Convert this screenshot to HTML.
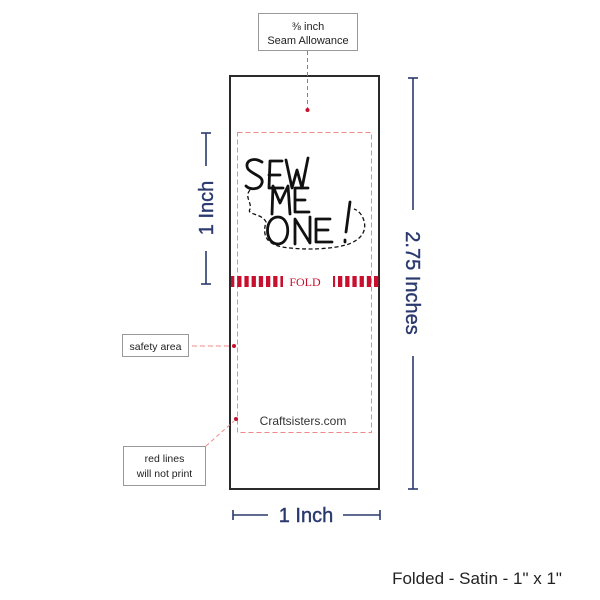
<!DOCTYPE html>
<html><head><style>
html,body{margin:0;padding:0;background:#fff;}
svg{display:block;font-family:"Liberation Sans",sans-serif;}
</style></head><body>
<svg width="600" height="600" viewBox="0 0 600 600">
<defs>
<pattern id="st" x="230" y="0" width="7.2" height="20" patternUnits="userSpaceOnUse">
<rect x="0" y="0" width="4.3" height="20" fill="#c8102e"/>
</pattern>
</defs>
<rect x="230" y="76" width="149" height="413" fill="#fff" stroke="#2a2a2a" stroke-width="2"/>
<rect x="237.5" y="132.5" width="134" height="300" fill="none" stroke="#f08a8a" stroke-width="1" stroke-dasharray="5,3"/>
<rect x="231" y="276" width="52" height="11" fill="url(#st)"/>
<rect x="333" y="276" width="46" height="11" fill="url(#st)"/>
<text x="305" y="286" font-family="Liberation Serif,serif" font-size="12" fill="#c8102e" text-anchor="middle">FOLD</text>
<g fill="none" stroke="#111" stroke-width="2.8" stroke-linecap="round" stroke-linejoin="round">
<path d="M262 162 C252 156 244 162 248 169 C253 175 264 176 262 183 C260 190 250 190 246 186"/>
<path d="M282 161 L270 161 L269 188 L283 188 M269 175 L280 175"/>
<path d="M286 160 L292 188 L297 170 L302 188 L308 158"/>
<path d="M272 214 L273 186 L280 203 L288 186 L290 214"/>
<path d="M308 188 L295 188 L295 212 L309 212 M295 200 L305 200"/>
<path d="M278 217 C264 217 264 244 278 244 C291 244 291 217 278 217"/>
<path d="M295 244 L295 219 L310 243 L310 217"/>
<path d="M330 219 L316 219 L316 242 L332 242 M316 230 L328 230"/>
<path d="M350 202 L346 232 M345 240 L345 242"/>
</g>
<path d="M250 190 C244 197 252 202 250 209 C246 215 262 213 266 222 C262 236 266 246 290 248 C310 250 330 249 346 245 C362 240 368 230 363 218 C361 213 357 210 354 209" fill="none" stroke="#111" stroke-width="1.3" stroke-dasharray="4,2.5"/>
<text x="303" y="425" font-size="12" fill="#333" text-anchor="middle">Craftsisters.com</text>
<rect x="258.5" y="13.5" width="99" height="37" fill="#fff" stroke="#999"/>
<text x="308" y="30" font-size="11" fill="#222" text-anchor="middle">⅜ inch</text>
<text x="308" y="44" font-size="11" fill="#222" text-anchor="middle">Seam Allowance</text>
<line x1="307.5" y1="51" x2="307.5" y2="108" stroke="#d0606e" stroke-dasharray="4,3"/>
<circle cx="307.5" cy="110" r="2" fill="#c8102e"/>
<rect x="122.5" y="334.5" width="66" height="22" fill="#fff" stroke="#999"/>
<text x="155.5" y="350" font-size="10.5" fill="#222" text-anchor="middle">safety area</text>
<line x1="192" y1="346" x2="232" y2="346" stroke="#f08a8a" stroke-dasharray="5,3"/>
<circle cx="234" cy="346" r="2" fill="#c8102e"/>
<rect x="123.5" y="446.5" width="82" height="39" fill="#fff" stroke="#999"/>
<text x="164.5" y="462" font-size="10.5" fill="#222" text-anchor="middle">red lines</text>
<text x="164.5" y="477" font-size="10.5" fill="#222" text-anchor="middle">will not print</text>
<line x1="206" y1="446" x2="234" y2="421" stroke="#f08a8a" stroke-dasharray="4,3"/>
<circle cx="236" cy="419" r="2" fill="#c8102e"/>
<g stroke="#2b3a6e" stroke-width="1.6" fill="none">
<line x1="413" y1="78" x2="413" y2="210"/>
<line x1="413" y1="356" x2="413" y2="489"/>
<line x1="408" y1="78" x2="418" y2="78"/>
<line x1="408" y1="489" x2="418" y2="489"/>
<line x1="206" y1="133" x2="206" y2="166"/>
<line x1="206" y1="251" x2="206" y2="284"/>
<line x1="201" y1="133" x2="211" y2="133"/>
<line x1="201" y1="284" x2="211" y2="284"/>
<line x1="233" y1="515" x2="268" y2="515"/>
<line x1="343" y1="515" x2="380" y2="515"/>
<line x1="233" y1="510" x2="233" y2="520"/>
<line x1="380" y1="510" x2="380" y2="520"/>
</g>
<text transform="translate(406,283) rotate(90)" font-size="20" fill="#2b3a6e" text-anchor="middle" stroke="#2b3a6e" stroke-width="0.4">2.75 Inches</text>
<text transform="translate(213,208) rotate(-90)" font-size="20" fill="#2b3a6e" text-anchor="middle" stroke="#2b3a6e" stroke-width="0.4">1 Inch</text>
<text x="306" y="522" font-size="20" fill="#2b3a6e" text-anchor="middle" stroke="#2b3a6e" stroke-width="0.4">1 Inch</text>
<text x="477" y="584" font-size="17" fill="#222" text-anchor="middle">Folded - Satin - 1" x 1"</text>
</svg>
</body></html>
